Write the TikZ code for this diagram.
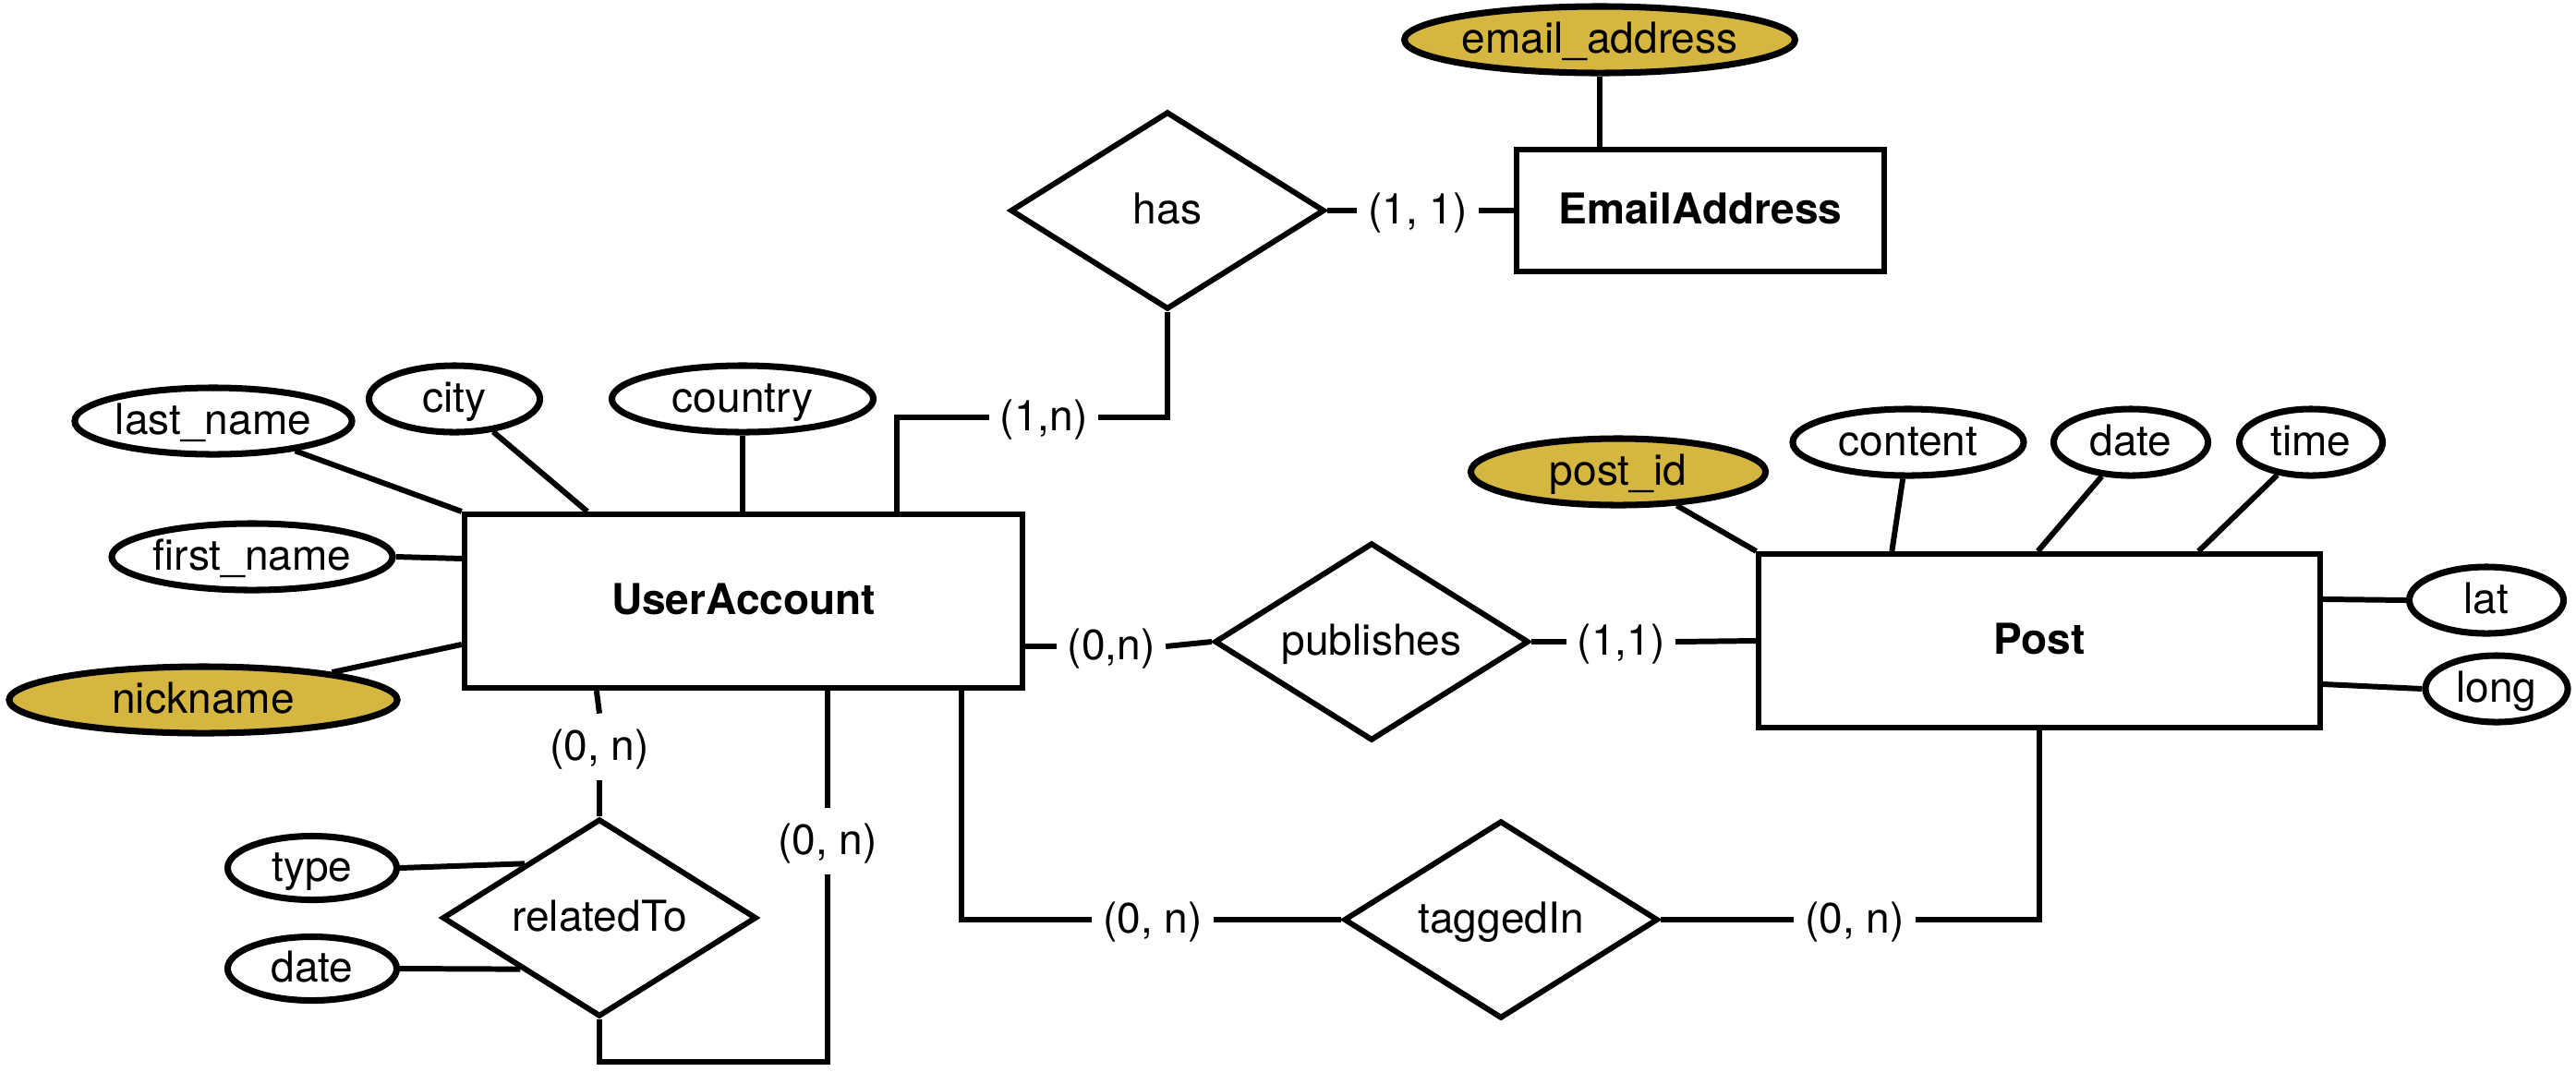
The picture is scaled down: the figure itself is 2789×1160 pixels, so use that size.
\documentclass[tikz,border=0pt]{standalone}
\usepackage{fontspec}
\setmainfont{TeX Gyre Heros}
\usetikzlibrary{shapes.geometric,calc}
\definecolor{keygold}{RGB}{213,182,65}

\begin{document}
\begin{tikzpicture}[x=0.01cm,y=-0.01cm,line width=1.7pt,
        font=\fontsize{13.1}{15}\selectfont,
        every node/.style={text height=0.9em,text depth=0.1em},
        entity/.style={rectangle,draw,font=\fontsize{13.1}{15}\selectfont\bfseries,minimum width=6.04cm,minimum height=1.88cm},
        relation/.style={diamond,draw,aspect=1.6,inner sep=0pt,minimum width=3.4cm,minimum height=2.14cm},
        attr/.style={ellipse,draw,line width=2pt,fill=white,inner sep=0pt,minimum height=0.72cm},
        keyattr/.style={attr,fill=keygold},
        card/.style={inner xsep=2.5pt,inner ysep=4.5pt}]
        \useasboundingbox (0,0) rectangle (2789,1160);
        \node [entity] (ua) at (805,651) {UserAccount};
        \node [entity,minimum width=3.98cm,minimum height=1.31cm] (emailent) at (1841,228) {EmailAddress};
        \node [entity,minimum width=6.07cm] (post) at (2208,694) {Post};
        \node [relation] (has) at (1264,228) {has};
        \node [relation] (publishes) at (1485,695) {publishes};
        \node [relation] (tagged) at (1625,996) {taggedIn};
        \node [relation] (related) at (649,994) {relatedTo};
        \node [keyattr,minimum width=4.1cm] (emailattr) at (1732,43) {email\_address};
        \node [attr,minimum width=2.9cm] (lastname) at (231,456) {last\_name};
        \node [attr,minimum width=1.85cm] (city) at (492,432) {city};
        \node [attr,minimum width=2.83cm] (country) at (804,432) {country};
        \node [attr,minimum width=3.0cm] (firstname) at (273,603) {first\_name};
        \node [keyattr,minimum width=4.2cm] (nickname) at (220,758) {nickname};
        \node [attr,minimum width=1.83cm,minimum height=0.69cm] (reltype) at (338,940) {type};
        \node [attr,minimum width=1.83cm,minimum height=0.69cm] (reldate) at (338,1049) {date};
        \node [keyattr,minimum width=3.19cm] (postid) at (1752,511) {post\_id};
        \node [attr,minimum width=2.5cm] (content) at (2066,479) {content};
        \node [attr,minimum width=1.67cm] (postdate) at (2307,479) {date};
        \node [attr,minimum width=1.55cm] (posttime) at (2502,479) {time};
        \node [attr,minimum width=1.67cm] (lat) at (2692,650) {lat};
        \node [attr,minimum width=1.54cm] (long) at (2703,746) {long};
        \node [card] (hascard) at (1130,452) {(1,n)};
        \node [card] (emailcard) at (1535,228) {(1, 1)};
        \node [card] (pubcardA) at (1203,700) {(0,n)};
        \node [card] (pubcardB) at (1755,695) {(1,1)};
        \node [card] (relcardA) at (649,809) {(0, n)};
        \node [card] (relcardB) at (896,911) {(0, n)};
        \node [card] (tagcardA) at (1248,996) {(0, n)};
        \node [card] (tagcardB) at (2008,996) {(0, n)};
        \coordinate (loopcorner) at (896,1150);
        \draw (lastname) -- (ua.north west);
        \draw (city) -- ($(ua.north west)+(136,0)$);
        \draw (country) -- (country |- ua.north);
        \draw (firstname.east) -- ($(ua.north west)+(0,51)$);
        \draw (nickname) -- ($(ua.north west)+(0,144)$);
        \draw ($(ua.north west)+(471,0)$) |- (hascard.west);
        \draw (hascard.east) -| (has.south);
        \draw (has.east) -- (emailcard.west);
        \draw (emailcard.east) -- (emailent.west);
        \draw (emailattr) -- (emailattr |- emailent.north);
        \draw ($(ua.east)+(0,49)$) -- (pubcardA.west);
        \draw (pubcardA.east) -- (publishes.west);
        \draw (publishes.east) -- (pubcardB.west);
        \draw (pubcardB.east) -- (post.west);
        \draw (postid) -- (post.north west);
        \draw (content) -- ($(post.north west)+(147,0)$);
        \draw (postdate) -- ($(post.north west)+(305,0)$);
        \draw (posttime) -- ($(post.north west)+(479,0)$);
        \draw ($(post.north east)+(0,52)$) -- (lat.west);
        \draw ($(post.north east)+(0,144)$) -- (long.west);
        \draw (post.south) |- (tagcardB.east);
        \draw (tagcardB.west) -- (tagged.east);
        \draw ($(ua.south west)+(541,0)$) |- (tagcardA.west);
        \draw (tagcardA.east) -- (tagged.west);
        \draw ($(ua.south west)+(146,0)$) -- (relcardA.north);
        \draw (relcardA.south) -- (related.north);
        \draw (related.south) |- (loopcorner) -- (relcardB.south);
        \draw (relcardB.north) -- (relcardB.north |- ua.south);
        \draw (reltype.east) -- (related.144);
        \draw (reldate.east) -- (related.213);
\end{tikzpicture}
\end{document}
